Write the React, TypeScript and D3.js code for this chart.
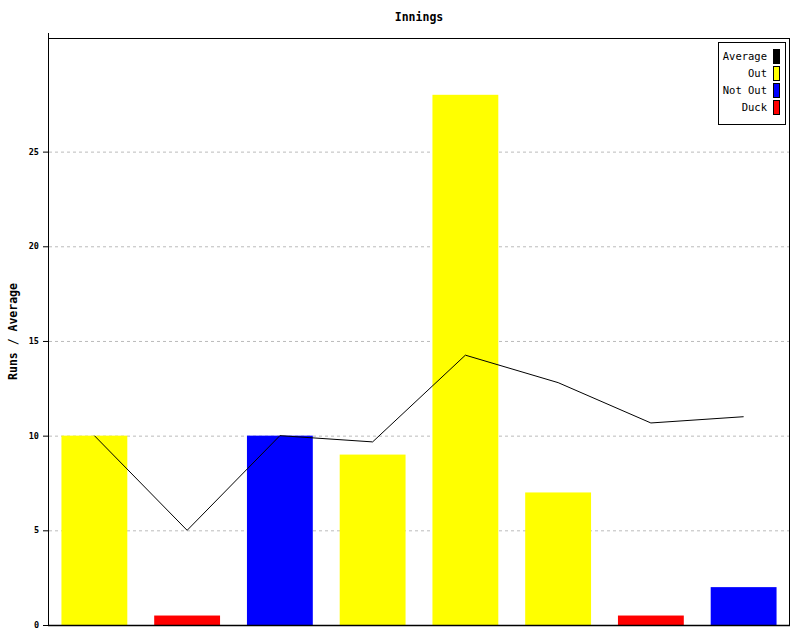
import React from "react";
import * as d3 from "d3";

const innings = ["1", "2", "3", "4", "5", "6", "7", "8"];
const runs = [10, 0.5, 10, 9, 28, 7, 0.5, 2];
const kinds = ["Out", "Duck", "Not Out", "Out", "Out", "Out", "Duck", "Not Out"];
const average = [10, 5, 10, 9.67, 14.25, 12.8, 10.67, 11];
const yTicks = [0, 5, 10, 15, 20, 25];
const legendLabels = ["Average", "Out", "Not Out", "Duck"];
const legendColors = ["#000000", "#ffff00", "#0000ff", "#ff0000"];

const colorFor: Record<string, string> = { Out: "#ffff00", "Not Out": "#0000ff", Duck: "#ff0000" };

const W = 800, H = 640;
const L = 48, R = 790, T = 38, B = 625;
const FONT = "'DejaVu Sans Mono', 'Liberation Mono', monospace";

export default function App() {
  const x = d3.scaleBand<string>().domain(innings).range([L, R]).paddingInner(0.29).paddingOuter(0.145);
  const y = d3.scaleLinear().domain([0, 31]).range([B, T]);
  const cx = (i: number) => (x(innings[i]) as number) + x.bandwidth() / 2;
  const line = d3.line<number>().x((_, i) => cx(i)).y((d) => y(d));

  return (
    <svg width={W} height={H} style={{ position: "absolute", left: 0, top: 0, background: "#fff" }}>
      <rect x={0} y={0} width={W} height={H} fill="#fff" />
      <text x={(L + R) / 2} y={21} textAnchor="middle" fontFamily={FONT} fontSize={11.5} fontWeight="bold">Innings</text>
      {yTicks.map((t) => (
        <g key={t}>
          {t > 0 && (
            <line x1={L + 1} x2={R} y1={y(t) + 0.5} y2={y(t) + 0.5} stroke="#bbbbbb" strokeDasharray="3,3" />
          )}
          <line x1={L - 5} x2={L} y1={y(t) + 0.5} y2={y(t) + 0.5} stroke="#000" />
          <text x={L - 9} y={y(t) + 3} textAnchor="end" fontFamily={FONT} fontSize={8.5} fontWeight="bold">{t}</text>
        </g>
      ))}
      {runs.map((v, i) => (
        <rect key={i} x={x(innings[i])} y={y(v)} width={x.bandwidth()} height={B - y(v)} fill={colorFor[kinds[i]]} />
      ))}
      <path d={line(average) || ""} fill="none" stroke="#000" strokeWidth={1} />
      <line x1={L + 0.5} x2={L + 0.5} y1={33} y2={B} stroke="#000" />
      <line x1={L} x2={R} y1={T + 0.5} y2={T + 0.5} stroke="#000" />
      <line x1={R - 0.5} x2={R - 0.5} y1={T} y2={B + 1} stroke="#000" />
      <line x1={L} x2={R} y1={B + 0.5} y2={B + 0.5} stroke="#000" strokeWidth={1.5} />
      <text transform={`translate(17,${(T + B) / 2}) rotate(-90)`} textAnchor="middle" fontFamily={FONT} fontSize={11.5} fontWeight="bold">Runs / Average</text>
      <rect x={718.5} y={42.5} width={67} height={82} fill="#fff" stroke="#000" />
      {legendLabels.map((lab, i) => (
        <g key={lab}>
          <text x={767} y={60 + i * 17} textAnchor="end" fontFamily={FONT} fontSize={10.5}>{lab}</text>
          <rect x={773.5} y={49.5 + i * 17} width={6} height={14} fill={legendColors[i]} stroke="#000" />
        </g>
      ))}
    </svg>
  );
}
